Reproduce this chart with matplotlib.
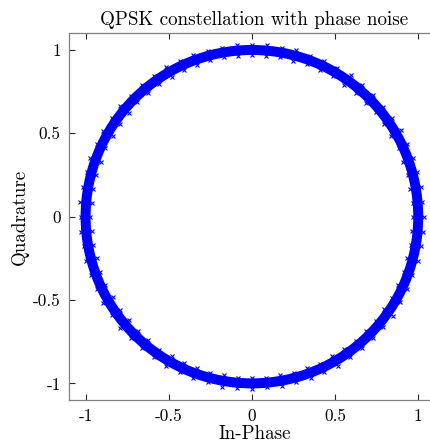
import matplotlib
matplotlib.use('Agg')
import matplotlib.pyplot as plt
from matplotlib.patches import Annulus
import numpy as np

plt.rcParams['font.family'] = 'cmr10'
plt.rcParams['mathtext.fontset'] = 'cm'
plt.rcParams['axes.unicode_minus'] = False

# ring of received symbols
ring_radius = 1.03     # outer edge
ring_width = 0.06

# ragged edge samples: angle (deg), outer and inner radius
angle_deg = [0, 5, 10, 15, 20, 25, 30, 35, 40, 45, 50, 55, 60, 65, 70, 75, 80, 85,
             90, 95, 100, 105, 110, 115, 120, 125, 130, 135, 140, 145, 150, 155, 160, 165, 170, 175,
             180, 185, 190, 195, 200, 205, 210, 215, 220, 225, 230, 235, 240, 245, 250, 255, 260, 265,
             270, 275, 280, 285, 290, 295, 300, 305, 310, 315, 320, 325, 330, 335, 340, 345, 350, 355]
r_outer = [1.032, 1.028, 1.035, 1.029, 1.033, 1.027, 1.034, 1.030, 1.026, 1.033, 1.029, 1.035,
           1.028, 1.032, 1.027, 1.034, 1.029, 1.033, 1.028, 1.035, 1.030, 1.026, 1.033, 1.028,
           1.034, 1.029, 1.032, 1.027, 1.035, 1.030, 1.033, 1.028, 1.034, 1.027, 1.031, 1.035,
           1.029, 1.033, 1.028, 1.034, 1.030, 1.026, 1.033, 1.029, 1.035, 1.028, 1.032, 1.027,
           1.034, 1.029, 1.033, 1.028, 1.035, 1.030, 1.032, 1.027, 1.034, 1.029, 1.033, 1.028,
           1.035, 1.030, 1.026, 1.033, 1.029, 1.034, 1.028, 1.032, 1.027, 1.035, 1.030, 1.033]
r_inner = [0.968, 0.972, 0.965, 0.971, 0.967, 0.973, 0.966, 0.970, 0.974, 0.967, 0.971, 0.965,
           0.972, 0.968, 0.973, 0.966, 0.971, 0.967, 0.972, 0.965, 0.970, 0.974, 0.967, 0.972,
           0.966, 0.971, 0.968, 0.973, 0.965, 0.970, 0.967, 0.972, 0.966, 0.973, 0.969, 0.965,
           0.971, 0.967, 0.972, 0.966, 0.970, 0.974, 0.967, 0.971, 0.965, 0.972, 0.968, 0.973,
           0.966, 0.971, 0.967, 0.972, 0.965, 0.970, 0.968, 0.973, 0.966, 0.971, 0.967, 0.972,
           0.965, 0.970, 0.974, 0.967, 0.971, 0.966, 0.972, 0.968, 0.973, 0.965, 0.970, 0.967]

ticks = [-1, -0.5, 0, 0.5, 1]
tick_labels = ['-1', '-0.5', '0', '0.5', '1']

th = np.deg2rad(angle_deg)
ro = np.array(r_outer)
ri = np.array(r_inner)

fig = plt.figure(figsize=(4.31, 4.44), dpi=100)
# right edge of the box runs past the picture, as in the original
ax = fig.add_axes([0.160, 0.099, 0.8605, 0.826])

ax.add_patch(Annulus((0, 0), ring_radius, ring_width, color='#0000ff', lw=0))
ax.plot(ro * np.cos(th), ro * np.sin(th), 'x', color='#0000ff', ms=2.2, mew=0.8)
ax.plot(ri * np.cos(th), ri * np.sin(th), 'x', color='#0000ff', ms=2.2, mew=0.8)

ax.set_xlim(-1.1, 1.13)
ax.set_ylim(-1.1, 1.1)
ax.set_xticks(ticks)
ax.set_xticklabels(tick_labels)
ax.set_yticks(ticks)
ax.set_yticklabels(tick_labels)
ax.tick_params(direction='in', length=4, width=0.8, color='#262626',
               top=True, right=True, labelsize=12.4, pad=6)
for s in ax.spines.values():
    s.set_color('#808080')
    s.set_linewidth(0.9)

ax.set_title('QPSK constellation with phase noise', fontsize=13.7, pad=6)
ax.set_xlabel('In-Phase', fontsize=13.7, labelpad=1)
ax.set_ylabel('Quadrature', fontsize=13.7, labelpad=3)

fig.savefig('out.png', dpi=100)
